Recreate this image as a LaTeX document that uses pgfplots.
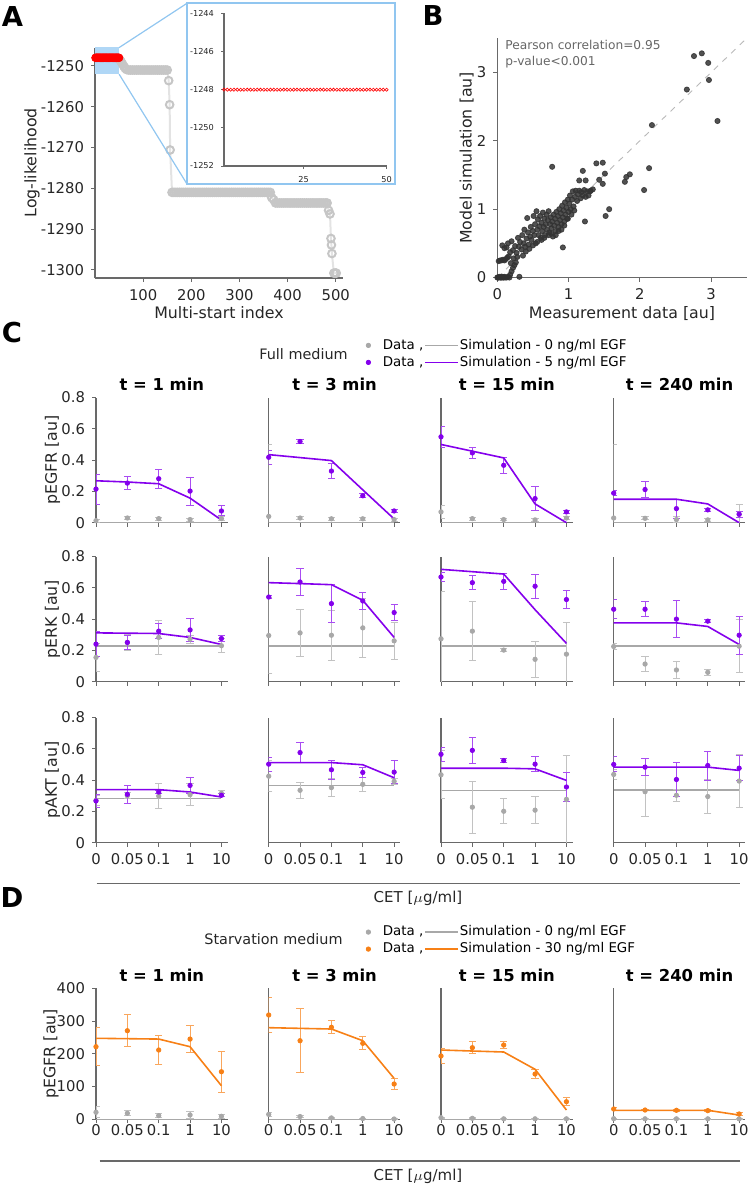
\documentclass[border=0pt]{standalone}
\usepackage{fontspec}
\setmainfont{DejaVu Sans}
\usepackage{pgfplots}
\usepackage{pgfplotstable}
\pgfplotsset{compat=1.18}

\definecolor{cpur}{RGB}{132,0,236}
\definecolor{corg}{RGB}{247,128,22}
\definecolor{cgry}{RGB}{168,168,168}
\definecolor{axg}{RGB}{105,105,105}
\definecolor{lblue}{RGB}{176,215,246}
\definecolor{bblue}{RGB}{145,198,240}
\newcommand\fs[1]{\fontsize{#1pt}{#1pt}\selectfont}

% best 50 starts, all at the same optimum
\pgfplotstableread[row sep=\\]{x y\\
1 -1248\\2 -1248\\3 -1248\\4 -1248\\5 -1248\\6 -1248\\7 -1248\\8 -1248\\9 -1248\\10 -1248\\
11 -1248\\12 -1248\\13 -1248\\14 -1248\\15 -1248\\16 -1248\\17 -1248\\18 -1248\\19 -1248\\20 -1248\\
21 -1248\\22 -1248\\23 -1248\\24 -1248\\25 -1248\\26 -1248\\27 -1248\\28 -1248\\29 -1248\\30 -1248\\
31 -1248\\32 -1248\\33 -1248\\34 -1248\\35 -1248\\36 -1248\\37 -1248\\38 -1248\\39 -1248\\40 -1248\\
41 -1248\\42 -1248\\43 -1248\\44 -1248\\45 -1248\\46 -1248\\47 -1248\\48 -1248\\49 -1248\\50 -1248\\
}\Ared

\pgfplotsset{
  base/.style={scale only axis, anchor=south west, axis x line*=bottom, axis y line*=left,
    axis line style={axg, line width=0.55pt}, tick style={axg, line width=0.5pt},
    tick align=outside, major tick length=2pt,
    tick label style={font=\fs{7.4}, text=black!85},
    label style={font=\fs{7.9}, text=black!85}},
  cax/.style={base, width=65.85pt, height=62.6pt, xmin=0, xmax=4.2, ymin=0, ymax=0.8,
    xtick={0,1,2,3,4}, xticklabels={}, ytick=\empty},
  ycol/.style={ytick={0,0.2,0.4,0.6,0.8}, yticklabels={0,0.2,0.4,0.6,0.8}, ylabel={#1},
    ylabel style={at={(axis description cs:-0.33,0.5)}, anchor=center}},
  xrow/.style={xticklabels={0,0.05,0.1,1,10}},
  dax/.style={cax, height=65.5pt, ymax=400, xticklabel style={yshift=3pt}},
  dcol/.style={ytick={0,100,200,300,400}, yticklabels={0,100,200,300,400}, ylabel={#1},
    ylabel style={at={(axis description cs:-0.342,0.5)}, anchor=center}},
  ttl/.style={title={#1}, every axis title shift=0pt,
    title style={font=\bfseries\fs{8.2}, at={(0.5,1)}, anchor=base, yshift=3.6pt}},
  dat/.style={only marks, mark=*, mark size=1.1pt, color=#1,
    error bars/.cd, y dir=both, y explicit,
    error bar style={color=#1!70, line width=0.5pt},
    error mark options={rotate=90, mark size=1.8pt, color=#1!70, line width=0.5pt}},
  sim/.style={color=#1, line width=0.8pt, no markers},
  dotleg/.style={legend image code/.code={\draw[##1] plot coordinates {(0pt,0pt)}; \path (6.5pt,0pt);}},
  lineleg/.style={legend image code/.code={\draw[##1] (0pt,0pt) -- (16.5pt,0pt);}},
  legax/.style={hide axis, scale only axis, width=1pt, height=1pt, anchor=south west,
    xmin=0, xmax=1, ymin=0, ymax=1, legend columns=2, legend cell align=left,
    legend style={at={(0,0)}, anchor=north west, draw=none, fill=none, inner sep=0pt,
      font=\fs{6.7}, nodes={inner xsep=0.5pt, inner ysep=1.1pt, text height=5pt, text depth=1.3pt},
      row sep=0pt, column sep=0pt}},
}

% one small panel: #1 options, #2 grey data, #3 grey simulation, #4 coloured data, #5 coloured simulation, #6 colour
\newcommand\cpan[6]{%
  \begin{axis}[cax,#1]
    \addplot[sim=cgry] coordinates {#3};
    \addplot[dat=cgry] coordinates {#2};
    \addplot[dat=#6] coordinates {#4};
    \addplot[sim=#6] coordinates {#5};
  \end{axis}}

\begin{document}
\begin{tikzpicture}
\useasboundingbox (0,0) rectangle (375pt,-594pt);

% ---------- A ----------
\begin{axis}[base, at={(47.5pt,-139pt)}, width=124pt, height=115.2pt,
  xmin=0, xmax=515, ymin=-1302, ymax=-1245.5,
  xtick={100,200,300,400,500}, xticklabels={100,200,300,400,500},
  ytick={-1300,-1290,-1280,-1270,-1260,-1250},
  yticklabels={-1300,-1290,-1280,-1270,-1260,-1250},
  xlabel={Multi-start index}, ylabel={Log-likelihood},
  xlabel style={at={(axis description cs:0.5,-0.152)}, anchor=center},
  ylabel style={at={(axis description cs:-0.254,0.5)}, anchor=center}]
  \fill[lblue] (axis cs:0,-1252) rectangle (axis cs:50,-1244);
  \addplot[gray!22, line width=1pt, mark=o, mark size=1.9pt, mark options={gray!45, line width=1pt}] coordinates {
    (51,-1248.4) (54,-1248.9) (57,-1249.5) (60,-1250.1) (63,-1250.6) (66,-1250.9)
    (70,-1251) (74,-1251) (78,-1251) (82,-1251) (86,-1251) (90,-1251) (94,-1251) (98,-1251)
    (102,-1251) (106,-1251) (110,-1251) (114,-1251) (118,-1251) (122,-1251) (126,-1251)
    (130,-1251) (134,-1251) (138,-1251) (142,-1251) (146,-1251) (150,-1251)
    (153,-1253.6) (155,-1259.5) (156,-1270.6)
    (160,-1281) (164,-1281) (168,-1281) (172,-1281) (176,-1281) (180,-1281) (184,-1281)
    (188,-1281) (192,-1281) (196,-1281) (200,-1281) (204,-1281) (208,-1281) (212,-1281)
    (216,-1281) (220,-1281) (224,-1281) (228,-1281) (232,-1281) (236,-1281) (240,-1281)
    (244,-1281) (248,-1281) (252,-1281) (256,-1281) (260,-1281) (264,-1281) (268,-1281)
    (272,-1281) (276,-1281) (280,-1281) (284,-1281) (288,-1281) (292,-1281) (296,-1281)
    (300,-1281) (304,-1281) (308,-1281) (312,-1281) (316,-1281) (320,-1281) (324,-1281)
    (328,-1281) (332,-1281) (336,-1281) (340,-1281) (344,-1281) (348,-1281) (352,-1281)
    (356,-1281) (360,-1281) (364,-1281)
    (367,-1282.3) (371,-1282.8)
    (375,-1283.6) (379,-1283.6) (383,-1283.6) (387,-1283.6) (391,-1283.6) (395,-1283.6)
    (399,-1283.6) (403,-1283.6) (407,-1283.6) (411,-1283.6) (415,-1283.6) (419,-1283.6)
    (423,-1283.6) (427,-1283.6) (431,-1283.6) (435,-1283.6) (439,-1283.6) (443,-1283.6)
    (447,-1283.6) (451,-1283.6) (455,-1283.6) (459,-1283.6) (463,-1283.6) (467,-1283.6)
    (471,-1283.6) (475,-1283.6) (479,-1283.6) (482,-1283.6)
    (485,-1285.4) (488,-1286.3) (490,-1292.3) (491,-1293.9) (492,-1296.0)
    (496,-1300.8) (499,-1300.8) (501,-1300.8)};
  \addplot[only marks, mark=*, mark size=1.9pt, red] table {\Ared};
  \coordinate (zt) at (axis cs:50,-1245.5);
  \coordinate (zb) at (axis cs:50,-1252);
\end{axis}
\draw[bblue, line width=0.6pt] (zt) -- (93.5pt,-1.65pt) (zb) -- (93.5pt,-92pt);
\draw[bblue, line width=1.1pt, fill=white] (93.5pt,-1.65pt) rectangle (197.5pt,-92pt);
\begin{axis}[base, at={(112pt,-83pt)}, width=81.3pt, height=76.3pt,
  xmin=1, xmax=50, ymin=-1252, ymax=-1244,
  xtick={25,50}, xticklabels={25,50},
  ytick={-1252,-1250,-1248,-1246,-1244}, yticklabels={-1252,-1250,-1248,-1246,-1244},
  major tick length=1.5pt, tick label style={font=\fs{4.1}}]
  \addplot[only marks, mark=o, mark size=0.8pt, red, mark options={line width=0.3pt}] table {\Ared};
\end{axis}

% ---------- B ----------
\begin{axis}[base, at={(248.65pt,-138.75pt)}, width=124.7pt, height=119.6pt,
  xmin=0, xmax=3.5, ymin=0, ymax=3.5,
  xtick={0,1,2,3}, xticklabels={0,1,2,3}, ytick={0,1,2,3}, yticklabels={0,1,2,3},
  xlabel={Measurement data [au]}, ylabel={Model simulation [au]},
  xlabel style={at={(axis description cs:0.5,-0.149)}, anchor=center},
  ylabel style={at={(axis description cs:-0.123,0.5)}, anchor=center}]
  \addplot[gray!55, dashed, line width=0.45pt] coordinates {(0,0) (3.5,3.5)};
  \addplot[only marks, mark=*, mark size=1.3pt, black!80, mark options={draw=black!80, fill=black!80, opacity=0.85}] coordinates {
    (0.00,0.00) (0.01,0.00) (0.02,0.00) (0.03,0.01) (0.04,0.00) (0.05,0.00) (0.06,0.00) (0.07,0.01)
    (0.08,0.00) (0.09,0.00) (0.10,0.01) (0.11,0.00) (0.13,0.00) (0.15,0.01) (0.17,0.00) (0.31,0.01)
    (0.02,0.24) (0.04,0.25) (0.06,0.25) (0.08,0.26) (0.10,0.25) (0.12,0.27) (0.14,0.29) (0.16,0.31)
    (0.18,0.04) (0.20,0.09) (0.22,0.14) (0.24,0.18) (0.26,0.22) (0.19,0.21) (0.23,0.28) (0.28,0.30)
    (0.07,0.47) (0.10,0.43) (0.13,0.44) (0.15,0.50) (0.18,0.37) (0.20,0.53) (0.22,0.40) (0.25,0.46)
    (0.27,0.36) (0.29,0.58) (0.30,0.45) (0.32,0.52) (0.34,0.41) (0.35,0.62) (0.37,0.50) (0.38,0.70)
    (0.39,0.45) (0.41,0.57) (0.42,0.87) (0.43,0.66) (0.44,0.48) (0.46,0.60) (0.47,0.74) (0.48,0.55)
    (0.50,0.68) (0.51,0.90) (0.52,0.62) (0.53,0.78) (0.54,0.50) (0.55,0.97) (0.56,0.70) (0.57,0.85)
    (0.58,0.62) (0.59,0.75) (0.60,0.90) (0.61,0.58) (0.62,0.80) (0.63,0.68) (0.64,0.95) (0.65,0.74)
    (0.66,0.86) (0.67,0.62) (0.68,0.78) (0.69,0.92) (0.70,0.70) (0.71,0.84) (0.72,0.97) (0.73,0.66)
    (0.74,0.78) (0.75,0.88) (0.76,0.72) (0.77,0.82) (0.78,0.60) (0.79,0.92) (0.80,0.76) (0.81,0.86)
    (0.82,0.68) (0.83,0.96) (0.84,0.80) (0.85,0.90) (0.86,0.74) (0.87,1.00) (0.88,0.84) (0.89,0.94)
    (0.90,0.78) (0.91,1.05) (0.92,0.88) (0.93,0.98) (0.94,0.82) (0.95,1.10) (0.96,0.92) (0.97,1.02)
    (0.98,0.86) (0.99,1.14) (1.00,0.96) (1.01,1.08) (1.02,1.20) (1.03,1.00) (1.05,1.14) (1.06,1.26)
    (1.07,1.04) (1.09,1.18) (1.10,1.27) (1.12,1.12) (1.13,1.22) (1.15,1.27) (1.17,1.16) (1.18,1.25)
    (1.20,1.20) (1.22,1.28) (1.24,1.18) (1.26,1.26) (1.28,1.20) (1.31,1.27) (1.30,1.26)
    (0.36,0.32) (0.40,0.38) (0.45,0.42) (0.50,0.47) (0.56,0.52) (0.62,0.55) (0.66,0.58) (0.72,0.62)
    (0.76,0.64) (0.82,0.62) (0.86,0.68) (0.90,0.70) (0.94,0.76) (0.99,0.86) (1.04,0.92) (1.08,0.98)
    (0.92,0.44) (0.77,1.62) (1.20,1.56) (1.15,1.42) (1.24,1.42) (1.39,1.67) (1.48,1.68) (1.51,1.52)
    (1.43,1.43) (1.48,1.37) (1.34,1.29) (1.57,1.00) (1.52,0.90) (1.23,0.82) (1.79,1.40) (1.81,1.47)
    (1.86,1.51) (2.06,1.28) (2.13,1.60) (2.17,2.23) (2.66,2.75) (2.76,3.24) (2.87,3.28) (2.96,3.14)
    (2.97,2.89) (3.09,2.29)};
  \node[anchor=west, font=\fs{6.1}, text=black!60, inner sep=0pt] at (axis description cs:0.031,0.972) {Pearson correlation=0.95};
  \node[anchor=west, font=\fs{6.1}, text=black!60, inner sep=0pt] at (axis description cs:0.031,0.901) {p-value<0.001};
\end{axis}

% ---------- panel letters ----------
\node[font=\bfseries\fs{13.7}] at (6.25pt,-8.5pt) {A};
\node[font=\bfseries\fs{13.7}] at (216.5pt,-8pt) {B};
\node[font=\bfseries\fs{13.7}] at (6pt,-166.5pt) {C};
\node[font=\bfseries\fs{13.7}] at (6pt,-449pt) {D};

% ---------- C : full medium ----------
\node[font=\fs{7.2}, text=black!85] at (151.75pt,-177pt) {Full medium};
\begin{axis}[legax, at={(182.9pt,-168.25pt)}]
  \addlegendimage{dotleg, only marks, mark=*, mark size=1.1pt, cgry}
  \addlegendentry{Data ,}
  \addlegendimage{lineleg, cgry, line width=0.8pt}
  \addlegendentry{Simulation - 0 ng/ml EGF}
  \addlegendimage{dotleg, only marks, mark=*, mark size=1.1pt, cpur}
  \addlegendentry{Data ,}
  \addlegendimage{lineleg, cpur, line width=0.8pt}
  \addlegendentry{Simulation - 5 ng/ml EGF}
\end{axis}

% row 1: pEGFR
\cpan{at={(48pt,-261.35pt)}, ycol={pEGFR [au]}, ttl={t = 1 min}}
{(0,0.013) +- (0,0.01) (1,0.03) +- (0,0.01) (2,0.026) +- (0,0.01) (3,0.02) +- (0,0.01) (4,0.026) +- (0,0.012)}
{(0,0) (1,0) (2,0) (3,0) (4,0)}
{(0,0.215) +- (0,0.096) (1,0.253) +- (0,0.04) (2,0.281) +- (0,0.06) (3,0.202) +- (0,0.09) (4,0.075) +- (0,0.032)}
{(0,0.268) (1,0.26) (2,0.249) (3,0.157) (4,0.017)}{cpur}
\cpan{at={(134.35pt,-261.35pt)}, ttl={t = 3 min}}
{(0,0.04) +- (0,0.46) (1,0.03) +- (0,0.01) (2,0.025) +- (0,0.01) (3,0.025) +- (0,0.01) (4,0.02) +- (0,0.01)}
{(0,0) (1,0) (2,0) (3,0) (4,0)}
{(0,0.418) +- (0,0.045) (1,0.519) +- (0,0.01) (2,0.33) +- (0,0.05) (3,0.172) +- (0,0.012) (4,0.075) +- (0,0.01)}
{(0,0.435) (1,0.416) (2,0.397) (3,0.21) (4,0.024)}{cpur}
\cpan{at={(220.5pt,-261.35pt)}, ttl={t = 15 min}}
{(0,0.069) +- (0,0.04) (1,0.026) +- (0,0.01) (2,0.02) +- (0,0.008) (3,0.018) +- (0,0.008) (4,0.03) +- (0,0.01)}
{(0,0) (1,0) (2,0) (3,0) (4,0)}
{(0,0.549) +- (0,0.067) (1,0.446) +- (0,0.037) (2,0.367) +- (0,0.05) (3,0.154) +- (0,0.077) (4,0.069) +- (0,0.01)}
{(0,0.5) (1,0.457) (2,0.414) (3,0.12) (4,0.0)}{cpur}
\cpan{at={(306.85pt,-261.35pt)}, ttl={t = 240 min}}
{(0,0.03) +- (0,0.47) (1,0.028) +- (0,0.01) (2,0.02) +- (0,0.02) (3,0.018) +- (0,0.01) (4,0.054) +- (0,0.064)}
{(0,0) (1,0) (2,0) (3,0) (4,0)}
{(0,0.189) +- (0,0.016) (1,0.212) +- (0,0.054) (2,0.09) +- (0,0.06) (3,0.082) +- (0,0.01) (4,0.054) +- (0,0.02)}
{(0,0.15) (1,0.15) (2,0.15) (3,0.12) (4,0.0)}{cpur}

% row 2: pERK
\cpan{at={(48pt,-340.85pt)}, ycol={pERK [au]}}
{(0,0.155) +- (0,0.09) (1,0.25) +- (0,0.05) (2,0.283) +- (0,0.11) (3,0.272) +- (0,0.025) (4,0.23) +- (0,0.045)}
{(0,0.227) (1,0.227) (2,0.227) (3,0.227) (4,0.227)}
{(0,0.24) +- (0,0.08) (1,0.251) +- (0,0.043) (2,0.323) +- (0,0.05) (3,0.331) +- (0,0.075) (4,0.276) +- (0,0.02)}
{(0,0.312) (1,0.31) (2,0.308) (3,0.283) (4,0.238)}{cpur}
\cpan{at={(134.35pt,-340.85pt)}}
{(0,0.295) +- (0,0.245) (1,0.312) +- (0,0.15) (2,0.297) +- (0,0.16) (3,0.344) +- (0,0.19) (4,0.261) +- (0,0.12)}
{(0,0.227) (1,0.227) (2,0.227) (3,0.227) (4,0.227)}
{(0,0.541) +- (0,0.01) (1,0.637) +- (0,0.084) (2,0.499) +- (0,0.12) (3,0.516) +- (0,0.056) (4,0.442) +- (0,0.053)}
{(0,0.633) (1,0.627) (2,0.62) (3,0.52) (4,0.283)}{cpur}
\cpan{at={(220.5pt,-340.85pt)}}
{(0,0.274) +- (0,0.3) (1,0.323) +- (0,0.19) (2,0.202) +- (0,0.012) (3,0.143) +- (0,0.115) (4,0.176) +- (0,0.2)}
{(0,0.227) (1,0.227) (2,0.227) (3,0.227) (4,0.227)}
{(0,0.669) +- (0,0.03) (1,0.633) +- (0,0.045) (2,0.641) +- (0,0.05) (3,0.61) +- (0,0.077) (4,0.525) +- (0,0.06)}
{(0,0.718) (1,0.703) (2,0.688) (3,0.46) (4,0.245)}{cpur}
\cpan{at={(306.85pt,-340.85pt)}}
{(0,0.225) +- (0,0.02) (1,0.113) +- (0,0.05) (2,0.075) +- (0,0.055) (3,0.06) +- (0,0.02) (4,0.227) +- (0,0.17)}
{(0,0.227) (1,0.227) (2,0.227) (3,0.227) (4,0.227)}
{(0,0.463) +- (0,0.06) (1,0.463) +- (0,0.048) (2,0.4) +- (0,0.12) (3,0.387) +- (0,0.01) (4,0.297) +- (0,0.12)}
{(0,0.376) (1,0.376) (2,0.376) (3,0.353) (4,0.238)}{cpur}

% row 3: pAKT
\cpan{at={(48pt,-421.35pt)}, ycol={pAKT [au]}, xrow}
{(0,0.27) +- (0,0.03) (1,0.3) +- (0,0.02) (2,0.298) +- (0,0.08) (3,0.307) +- (0,0.07) (4,0.316) +- (0,0.02)}
{(0,0.282) (1,0.282) (2,0.282) (3,0.282) (4,0.282)}
{(0,0.267) +- (0,0.04) (1,0.309) +- (0,0.058) (2,0.324) +- (0,0.01) (3,0.366) +- (0,0.053) (4,0.303) +- (0,0.01)}
{(0,0.339) (1,0.339) (2,0.339) (3,0.324) (4,0.292)}{cpur}
\cpan{at={(134.35pt,-421.35pt)}, xrow}
{(0,0.425) +- (0,0.1) (1,0.335) +- (0,0.05) (2,0.352) +- (0,0.058) (3,0.373) +- (0,0.045) (4,0.392) +- (0,0.02)}
{(0,0.366) (1,0.366) (2,0.366) (3,0.366) (4,0.366)}
{(0,0.502) +- (0,0.045) (1,0.576) +- (0,0.063) (2,0.466) +- (0,0.06) (3,0.449) +- (0,0.03) (4,0.451) +- (0,0.075)}
{(0,0.512) (1,0.512) (2,0.512) (3,0.498) (4,0.415)}{cpur}
\cpan{at={(220.5pt,-421.35pt)}, xrow}
{(0,0.434) +- (0,0.154) (1,0.227) +- (0,0.165) (2,0.201) +- (0,0.08) (3,0.208) +- (0,0.088) (4,0.277) +- (0,0.283)}
{(0,0.333) (1,0.333) (2,0.333) (3,0.333) (4,0.333)}
{(0,0.565) +- (0,0.045) (1,0.59) +- (0,0.085) (2,0.525) +- (0,0.015) (3,0.502) +- (0,0.05) (4,0.356) +- (0,0.093)}
{(0,0.476) (1,0.476) (2,0.476) (3,0.472) (4,0.398)}{cpur}
\cpan{at={(306.85pt,-421.35pt)}, xrow}
{(0,0.436) +- (0,0.03) (1,0.326) +- (0,0.157) (2,0.303) +- (0,0.04) (3,0.295) +- (0,0.109) (4,0.394) +- (0,0.17)}
{(0,0.335) (1,0.335) (2,0.335) (3,0.335) (4,0.335)}
{(0,0.5) +- (0,0.048) (1,0.483) +- (0,0.052) (2,0.404) +- (0,0.106) (3,0.493) +- (0,0.093) (4,0.476) +- (0,0.08)}
{(0,0.483) (1,0.483) (2,0.483) (3,0.483) (4,0.462)}{cpur}

\draw[axg, line width=0.6pt] (48.35pt,-441.65pt) -- (370pt,-441.65pt);
\node[font=\fs{7.5}, text=black!85] at (209pt,-449pt) {CET [$\mu$g/ml]};

% ---------- D : starvation medium ----------
\node[font=\fs{7.2}, text=black!85] at (136.75pt,-469.65pt) {Starvation medium};
\begin{axis}[legax, at={(182.9pt,-461.6pt)}]
  \addlegendimage{dotleg, only marks, mark=*, mark size=1.1pt, cgry}
  \addlegendentry{Data ,}
  \addlegendimage{lineleg, cgry, line width=0.8pt}
  \addlegendentry{Simulation - 0 ng/ml EGF}
  \addlegendimage{dotleg, only marks, mark=*, mark size=1.1pt, corg}
  \addlegendentry{Data ,}
  \addlegendimage{lineleg, corg, line width=0.8pt}
  \addlegendentry{Simulation - 30 ng/ml EGF}
\end{axis}

\cpan{at={(48pt,-559.65pt)}, dax, dcol={pEGFR [au]}, xrow, ttl={t = 1 min}}
{(0,21.4) +- (0,17) (1,18.3) +- (0,8) (2,11.2) +- (0,7) (3,13.2) +- (0,10) (4,9.2) +- (0,6)}
{(0,0) (1,0) (2,0) (3,0) (4,0)}
{(0,221.7) +- (0,58) (1,270.5) +- (0,49) (2,211.6) +- (0,45) (3,245) +- (0,40) (4,145.3) +- (0,62)}
{(0,247.3) (1,246.2) (2,245) (3,221.7) (4,102.6)}{corg}
\cpan{at={(134.35pt,-559.65pt)}, dax, xrow, ttl={t = 3 min}}
{(0,15) +- (0,5) (1,8.4) +- (0,3) (2,4.3) +- (0,2) (3,2.3) +- (0,1) (4,1) +- (0,1)}
{(0,0) (1,0) (2,0) (3,0) (4,0)}
{(0,318.5) +- (0,52) (1,240) +- (0,98) (2,281) +- (0,20) (3,232) +- (0,20) (4,107.8) +- (0,16)}
{(0,279.8) (1,277.7) (2,275.7) (3,240) (4,125)}{corg}
\cpan{at={(220.5pt,-559.65pt)}, dax, xrow, ttl={t = 15 min}}
{(0,5) +- (0,2) (1,3) +- (0,2) (2,1.5) +- (0,1) (3,1.5) +- (0,1) (4,1.5) +- (0,1)}
{(0,0) (1,0) (2,0) (3,0) (4,0)}
{(0,193.3) +- (0,24) (1,218.7) +- (0,18) (2,226.8) +- (0,11) (3,138.3) +- (0,15) (4,53.8) +- (0,12)}
{(0,211.6) (1,208.5) (2,205.5) (3,152.7) (4,28.4)}{corg}
\cpan{at={(306.85pt,-559.65pt)}, dax, xrow, ttl={t = 240 min}}
{(0,2) +- (0,1) (1,1.5) +- (0,1) (2,1.5) +- (0,1) (3,1.5) +- (0,1) (4,1.5) +- (0,1)}
{(0,0) (1,0) (2,0) (3,0) (4,0)}
{(0,31.5) +- (0,5) (1,28.4) +- (0,3) (2,27.5) +- (0,3) (3,26.5) +- (0,4) (4,16.3) +- (0,4)}
{(0,27.5) (1,27.5) (2,27.5) (3,27.5) (4,13)}{corg}

\draw[axg, line width=0.6pt] (49.85pt,-580.5pt) -- (370pt,-580.5pt);
\node[font=\fs{7.5}, text=black!85] at (209pt,-588pt) {CET [$\mu$g/ml]};
\end{tikzpicture}
\end{document}
